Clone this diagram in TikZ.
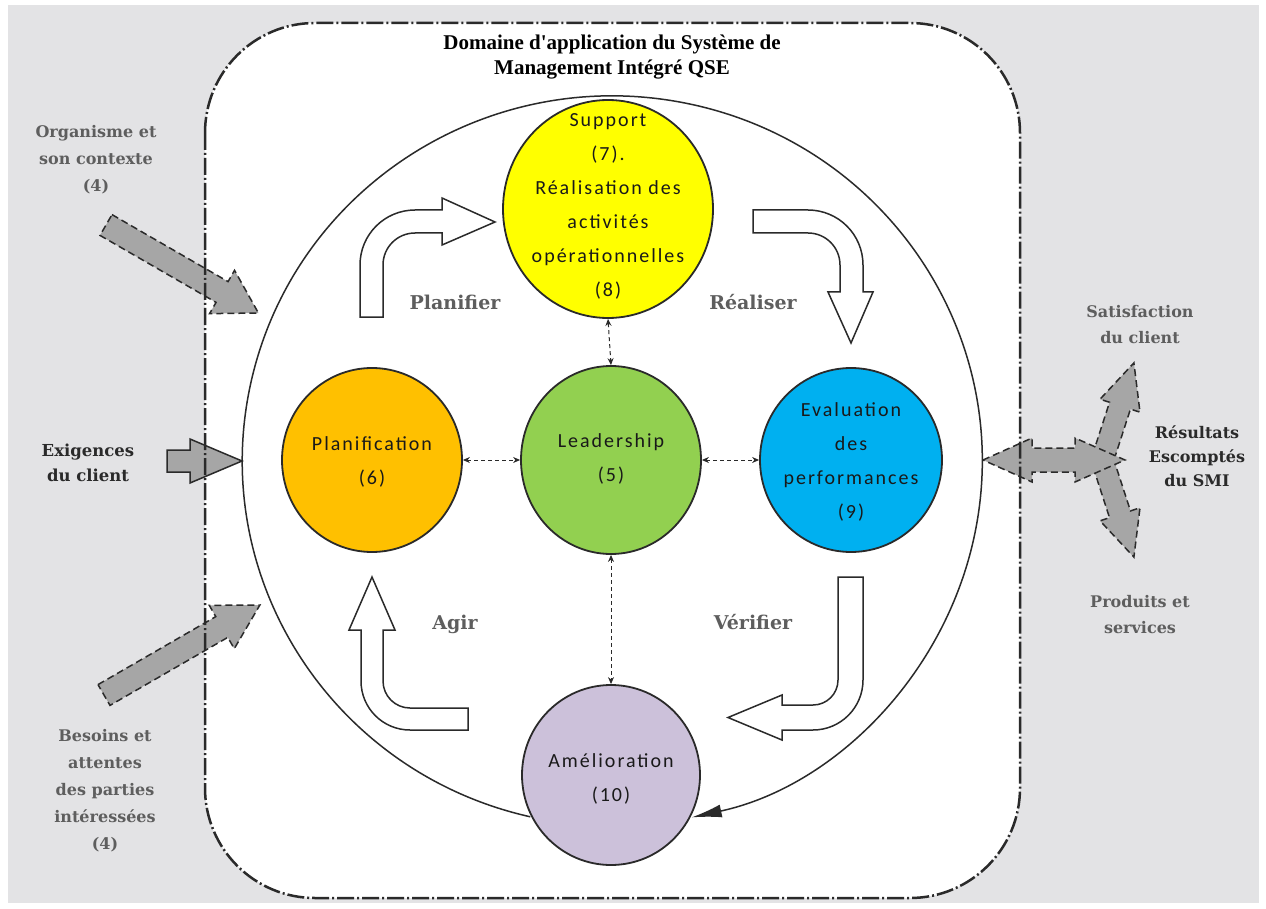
\documentclass[tikz,border=0pt]{standalone}
\usepackage{fontspec}
\usetikzlibrary{shapes.geometric,arrows.meta}
\newfontfamily\cfont[LetterSpace=10]{Carlito}
\newfontfamily\sfont{DejaVu Serif}
\newfontfamily\tfont{Liberation Serif}
\definecolor{bggray}{HTML}{E3E3E5}
\definecolor{garrow}{HTML}{A6A6A6}
\definecolor{cyel}{HTML}{FFFF00}
\definecolor{corange}{HTML}{FFC000}
\definecolor{cgreen}{HTML}{92D050}
\definecolor{cblue}{HTML}{00B0F0}
\definecolor{clav}{HTML}{CCC1DA}
\definecolor{lblgray}{HTML}{5E5E5E}
\definecolor{lbldark}{HTML}{2A2A2A}
\definecolor{outl}{HTML}{2A2A2A}
\newcommand\myarrow[8]{%
  \begin{scope}[shift={(#1,#2)},rotate=#3]
    \draw[#8] (0,-#5) -- ({#4-#6},-#5) -- ({#4-#6},-#7) -- (#4,0) -- ({#4-#6},#7) -- ({#4-#6},#5) -- (0,#5) -- cycle;
  \end{scope}}
\tikzset{
  phase/.style={ellipse, draw=outl, line width=1.8pt, inner sep=0pt},
  ctext/.style={align=center, inner sep=0pt, text=black!90, font=\cfont\fontsize{20}{34}\selectfont},
  graybox/.style={fill=garrow, draw=outl, line width=1.5pt, dash pattern=on 7pt off 4pt, line join=miter},
  solidbox/.style={fill=garrow, draw=outl, line width=1.5pt},
  whitebox/.style={fill=white, draw=outl, line width=1.5pt},
  link/.style={draw=outl, line width=1pt, dash pattern=on 4pt off 3pt, {Stealth[length=7pt,width=6pt]}-{Stealth[length=7pt,width=6pt]}},
  sidelbl/.style={align=center, inner sep=0pt, text=lblgray, font=\sfont\bfseries\fontsize{16}{27}\selectfont},
  keylbl/.style={align=center, inner sep=0pt, text=lbldark, font=\sfont\bfseries\fontsize{16.5}{25}\selectfont},
  pdcalbl/.style={inner sep=0pt, text=lblgray, font=\sfont\bfseries\fontsize{19}{22}\selectfont},
}
\begin{document}
\begin{tikzpicture}[x=1pt,y=-1pt]
\useasboundingbox (0,0) rectangle (1266,909);
% background
\fill[bggray] (8,5) rectangle (1259,903);
\fill[white, rounded corners=110pt] (205,23) rectangle (1020,898);
% left gray arrows
\myarrow{106}{225}{-30}{176}{12}{42}{25}{graybox}
\myarrow{167}{461}{0}{75}{11}{52}{22}{solidbox}
\myarrow{104}{695}{30}{180}{12}{44}{25}{graybox}
% right gray arrows
\myarrow{1103}{458}{72}{100}{11}{45}{21}{graybox}
\myarrow{1103}{462}{-72}{100}{11}{45}{21}{graybox}
\draw[graybox] (983,460) -- (1032,438) -- (1032,448) -- (1075,448) -- (1075,438) -- (1125,460) -- (1075,482) -- (1075,472) -- (1032,472) -- (1032,482) -- cycle;
% outer dash-dot border
\draw[outl, line width=2.5pt, rounded corners=110pt, dash pattern=on 17pt off 3pt on 2pt off 3pt] (205,23) rectangle (1020,898);
% title
\node[align=center, inner sep=0pt, text=black, font=\tfont\bfseries\fontsize{21}{25}\selectfont] (title) at (612,57) {Domaine d'application du Système de\\Management Intégré QSE};
% phases
\node[phase, fill=cyel, minimum width=210pt, minimum height=218pt] (supp) at (608,209) {};
\node[phase, fill=corange, minimum width=180pt, minimum height=184pt] (plan) at (372,460) {};
\node[phase, fill=cgreen, minimum width=180pt, minimum height=188pt] (lead) at (611,460) {};
\node[phase, fill=cblue, minimum width=182pt, minimum height=184pt] (eval) at (851,460) {};
\node[phase, fill=clav, minimum width=178pt, minimum height=180pt] (amel) at (611,775) {};
% big loop (drawn over the ring, from the Amelioration circle back to it)
\coordinate (loopstart) at (530.3,816.8);
\draw[outl, line width=1.5pt, -{Latex[length=30pt,width=13pt]}] (loopstart) arc[start angle=102.8, end angle=437.6, x radius=370, y radius=365];
\node[ctext] (supptxt) at (608,206) {Support\\(7).\\Réalisation des\\activités\\opérationnelles\\(8)};
\node[ctext] (plantxt) at (372,462) {Planification\\(6)};
\node[ctext] (leadtxt) at (611,459) {Leadership\\(5)};
\node[ctext] (evaltxt) at (851,462) {Evaluation\\des\\performances\\(9)};
\node[ctext] (ameltxt) at (611,779) {Amélioration\\(10)};
% links
\draw[link] (plan.east) -- (lead.west);
\draw[link] (lead.east) -- (eval.west);
\draw[link] (supp.south) -- (lead.north);
\draw[link] (lead.south) -- (amel.north);
% PDCA block arrows
\draw[whitebox] (360,317) -- (360,265) .. controls (360,234.6) and (384.6,210) .. (415,210) -- (442,210) -- (442,198) -- (495,222) -- (442,245) -- (442,233) -- (415,233) .. controls (397.3,233) and (383,247.3) .. (383,265) -- (383,317) -- cycle;
\draw[whitebox] (753,210) -- (808,210) .. controls (838.4,210) and (863,234.6) .. (863,265) -- (863,292) -- (873,292) -- (851,343) -- (828,292) -- (840,292) -- (840,265) .. controls (840,247.3) and (825.7,233) .. (808,233) -- (753,233) -- cycle;
\draw[whitebox] (838,577) -- (863,577) -- (863,680) .. controls (863,707.6) and (840.6,730) .. (813,730) -- (782,730) -- (782,740) -- (728,717.5) -- (782,695) -- (782,705) -- (813,705) .. controls (826.8,705) and (838,693.8) .. (838,680) -- cycle;
\draw[whitebox] (468,708) -- (410,708) .. controls (395.1,708) and (383,695.9) .. (383,681) -- (383,630) -- (395,630) -- (372,577) -- (349,630) -- (361,630) -- (361,681) .. controls (361,708.1) and (382.9,730) .. (410,730) -- (468,730) -- cycle;
\node[pdcalbl] (lplan) at (455,302) {Planifier};
\node[pdcalbl] (lreal) at (753,302) {Réaliser};
\node[pdcalbl] (lagir) at (455,624) {Agir};
\node[pdcalbl] (lveri) at (753,622) {Vérifier};
% side labels
\node[sidelbl] (lorg) at (96,160) {Organisme et\\son contexte\\(4)};
\node[keylbl] (lexi) at (88,463) {Exigences\\du client};
\node[sidelbl] (lbes) at (105,791) {Besoins et\\attentes\\des parties\\intéressées\\(4)};
\node[sidelbl, font=\sfont\bfseries\fontsize{16}{26}\selectfont] (lsat) at (1140,325) {Satisfaction\\du client};
\node[keylbl, font=\sfont\bfseries\fontsize{16}{24}\selectfont] (lres) at (1197,456) {Résultats\\Escomptés\\du SMI};
\node[sidelbl, font=\sfont\bfseries\fontsize{16}{26}\selectfont] (lprod) at (1140,615) {Produits et\\services};
\end{tikzpicture}
\end{document}
